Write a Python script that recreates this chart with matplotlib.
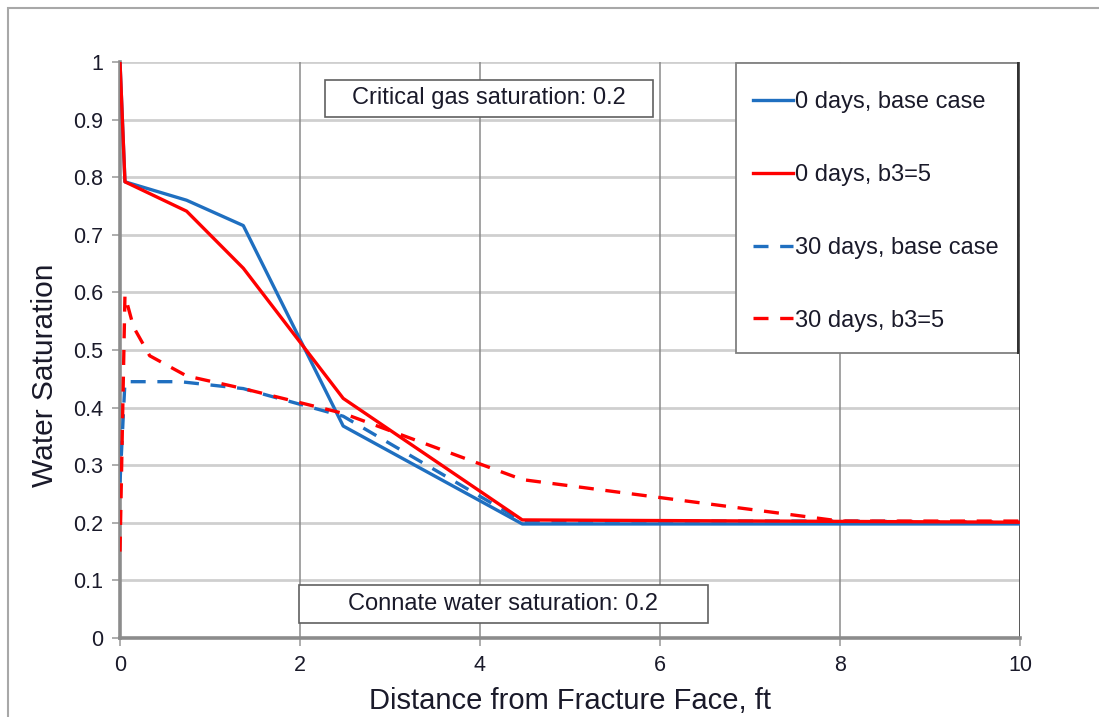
import matplotlib
matplotlib.use("Agg")
import matplotlib.pyplot as plt
from matplotlib.patches import Rectangle

plt.rcParams['font.family'] = ['Liberation Sans', 'DejaVu Sans']

# distance from fracture face, ft
x_0d = [0, 0.055, 0.74, 1.37, 2.48, 4.47, 10]
sw_0d_base = [1.0, 0.792, 0.760, 0.716, 0.368, 0.198, 0.198]
sw_0d_b3 = [1.0, 0.792, 0.741, 0.642, 0.416, 0.205, 0.201]

x_30d_base = [0, 0.055, 0.67, 1.37, 2.48, 4.47, 8.0, 10]
sw_30d_base = [0.27, 0.445, 0.445, 0.433, 0.385, 0.203, 0.203, 0.201]

x_30d_b3 = [0, 0.055, 0.15, 0.33, 0.74, 1.37, 2.48, 4.47, 8.0, 10]
sw_30d_b3 = [0.15, 0.595, 0.54, 0.49, 0.455, 0.433, 0.39, 0.275, 0.203, 0.203]

labels = ["0 days, base case", "0 days, b3=5", "30 days, base case", "30 days, b3=5"]

blue = "#1f6fc0"
red = "#ff0000"
text_col = "#1a1a2a"

fig = plt.figure(figsize=(10.99, 7.17), dpi=100)
ax = fig.add_axes([120 / 1099, 1 - 638 / 717, 900 / 1099, 576 / 717])

# outer frame around the chart area
fig.patches.append(Rectangle((8 / 1099, -0.1), 1.2, 1.1 - 8 / 717, transform=fig.transFigure,
                             fill=False, edgecolor="#a8a8a8", linewidth=1.5))

lw = 2.4
ax.plot(x_0d, sw_0d_base, color=blue, lw=lw, label=labels[0], zorder=3)
ax.plot(x_0d, sw_0d_b3, color=red, lw=lw, label=labels[1], zorder=4)
ax.plot(x_30d_base, sw_30d_base, color=blue, lw=lw, dashes=(4.5, 3.5), label=labels[2], zorder=3)
ax.plot(x_30d_b3, sw_30d_b3, color=red, lw=lw, dashes=(4.5, 3.5), label=labels[3], zorder=4)

ax.set_xlim(0, 10)
ax.set_ylim(0, 1)
ax.set_xticks(range(0, 11, 2))
ax.set_yticks([i / 10 for i in range(11)])
ax.set_yticklabels(["0", "0.1", "0.2", "0.3", "0.4", "0.5", "0.6", "0.7", "0.8", "0.9", "1"])

# horizontal grid light, vertical grid darker
for v in [i / 10 for i in range(1, 11)]:
    ax.axhline(v, color="#cfcfcf", lw=2.0, zorder=1)
for v in range(2, 10, 2):
    ax.axvline(v, color="#8a8a8a", lw=1.1, zorder=1)
ax.axvline(10, color="#4a4a4a", lw=1.3, zorder=1)

for s in ["top", "right"]:
    ax.spines[s].set_visible(False)
for s in ["left", "bottom"]:
    ax.spines[s].set_color("#8c8c8c")
    ax.spines[s].set_linewidth(2.6)
ax.tick_params(axis="both", direction="out", length=6, width=1.2, color="#a0a0a0",
               labelsize=15.5, labelcolor=text_col, pad=6)

ax.set_xlabel("Distance from Fracture Face, ft", fontsize=21, color=text_col, labelpad=8)
ax.set_ylabel("Water Saturation", fontsize=21.5, color=text_col)
ax.yaxis.set_label_coords(-0.0677, 0.4566)

# note boxes
ax.add_patch(Rectangle((2.278, 0.9045), 3.644, 0.0643, facecolor="white",
                       edgecolor="#606060", lw=1.2, zorder=6))
ax.text(4.1, 0.9375, "Critical gas saturation: 0.2", ha="center", va="center",
        fontsize=17, color=text_col, zorder=7)
ax.add_patch(Rectangle((1.989, 0.026), 4.544, 0.066, facecolor="white",
                       edgecolor="#606060", lw=1.2, zorder=6))
ax.text(4.261, 0.059, "Connate water saturation: 0.2", ha="center", va="center",
        fontsize=17, color=text_col, zorder=7)

# legend box
ax.add_patch(Rectangle((0.6844, 0.4948), 0.3133, 0.5035, transform=ax.transAxes,
                       facecolor="white", edgecolor="#808080", lw=1.3, zorder=6))
ax.plot([0.9977, 0.9977], [0.4948, 0.9983], transform=ax.transAxes,
        color="#303030", lw=1.4, zorder=6)

leg = ax.legend(loc="upper left", bbox_to_anchor=(0.7033, 0.949), fontsize=17,
                handlelength=1.7, handletextpad=0.1, labelspacing=2.15,
                borderpad=0, borderaxespad=0, frameon=False)
for t in leg.get_texts():
    t.set_color(text_col)
leg.set_zorder(8)

plt.savefig("out.png", dpi=100)
plt.close()
